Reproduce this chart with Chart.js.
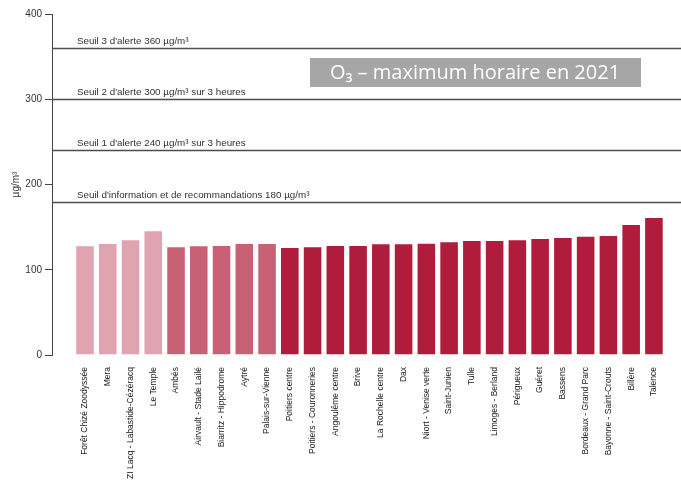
<!DOCTYPE html>
<html>
<head>
<meta charset="utf-8">
<script src="https://cdn.jsdelivr.net/npm/chart.js@4/dist/chart.umd.min.js"></script>
<style>
html,body{margin:0;padding:0;background:#fff;}
#wrap{width:681px;height:482px;position:relative;}
</style>
</head>
<body>
<div id="wrap"><canvas id="c" width="681" height="482"></canvas></div>
<script>
const stations = ["Forêt Chizé Zoodyssée","Mera","ZI Lacq - Labastide-Cézéracq","Le Temple","Ambès","Airvault - Stade Lailé","Biarritz - Hippodrome","Aytré","Palais-sur-Vienne","Poitiers centre","Poitiers - Couronneries","Angoulême centre","Brive","La Rochelle centre","Dax","Niort - Venise verte","Saint-Junien","Tulle","Limoges - Berland","Périgueux","Guéret","Bassens","Bordeaux - Grand Parc","Bayonne - Saint-Crouts","Billère","Talence"];
const maxValues = [128.7,131.4,135.7,146.3,127.5,128.7,129.0,131.4,131.4,126.7,127.5,129.0,129.0,131.0,131.0,131.8,133.3,134.9,134.9,135.7,137.2,138.4,140.0,140.8,153.7,161.9];
const stationGroup = [0,0,0,0,1,1,1,1,1,2,2,2,2,2,2,2,2,2,2,2,2,2,2,2,2,2];
const groupColors = ["#e0a4b1","#c96174","#b01c3b"];
const thresholdValues = [360,300,240,180];
const thresholdLabels = ["Seuil 3 d'alerte 360 µg/m³","Seuil 2 d'alerte 300 µg/m³ sur 3 heures","Seuil 1 d'alerte 240 µg/m³ sur 3 heures","Seuil d'information et de recommandations 180 µg/m³"];
const yTicks = [0,100,200,300,400];
const chartTitle = "O₃ – maximum horaire en 2021";
const yTitle = "µg/m³";

const FONT = "'Liberation Sans', sans-serif";

const thresholdPlugin = {
  id:'thresholds',
  beforeDatasetsDraw(chart){
    const {ctx, chartArea, scales:{y}} = chart;
    ctx.save();
    thresholdValues.forEach((v,i)=>{
      const py = Math.round(y.getPixelForValue(v))+0.5;
      ctx.strokeStyle = '#4d4d4d';
      ctx.lineWidth = 1.6;
      ctx.beginPath();
      ctx.moveTo(chartArea.left, py);
      ctx.lineTo(chartArea.right, py);
      ctx.stroke();
      ctx.fillStyle = '#333';
      ctx.font = "9.8px " + FONT;
      ctx.textBaseline = 'alphabetic';
      ctx.textAlign = 'left';
      ctx.fillText(thresholdLabels[i], chartArea.left + 25, py - 5);
    });
    ctx.restore();
  },
  afterDraw(chart){
    const {ctx} = chart;
    ctx.save();
    ctx.fillStyle = '#a6a6a6';
    ctx.fillRect(310, 58, 331, 29);
    ctx.fillStyle = '#ffffff';
    ctx.font = "20px 'Open Sans', sans-serif";
    ctx.textAlign = 'center';
    ctx.textBaseline = 'middle';
    ctx.fillText(chartTitle, 475, 73);
    ctx.restore();
  }
};

new Chart(document.getElementById('c'), {
  type:'bar',
  data:{
    datasets:[{
      data: maxValues.map((v,i)=>({x:i,y:v})),
      backgroundColor: stationGroup.map(g=>groupColors[g]),
      borderColor: 'rgba(255,255,255,0.35)',
      borderWidth: 1,
      barPercentage: 0.86,
      categoryPercentage: 1
    }]
  },
  options:{
    responsive:false,
    animation:false,
    layout:{padding:{top:14,right:0,left:0,bottom:0}},
    plugins:{legend:{display:false},tooltip:{enabled:false},title:{display:false}},
    scales:{
      x:{
        type:'linear',
        offset:false,
        min:-1.45,
        max:26.19,
        grid:{display:false,offset:false},
        border:{display:false},
        afterFit(s){ s.height = 127; },
        afterBuildTicks(s){ s.ticks = stations.map((_,i)=>({value:i})); },
        ticks:{
          autoSkip:false,
          maxRotation:90,
          minRotation:90,
          padding:4,
          color:'#222',
          font:{family:FONT,size:8.5},
          callback:(v)=> stations[v] ?? ''
        }
      },
      y:{
        min:0,max:400,
        afterFit(s){ s.width = 52; },
        afterBuildTicks(s){ s.ticks = yTicks.map(v=>({value:v})); },
        border:{display:true,color:'#444',width:1},
        grid:{drawOnChartArea:false,drawTicks:true,tickLength:7,color:'#444'},
        ticks:{color:'#333',font:{family:FONT,size:10},padding:3},
        title:{display:true,text:yTitle,color:'#333',font:{family:FONT,size:10},padding:{top:10,bottom:0}}
      }
    }
  },
  plugins:[thresholdPlugin]
});
</script>
</body>
</html>
